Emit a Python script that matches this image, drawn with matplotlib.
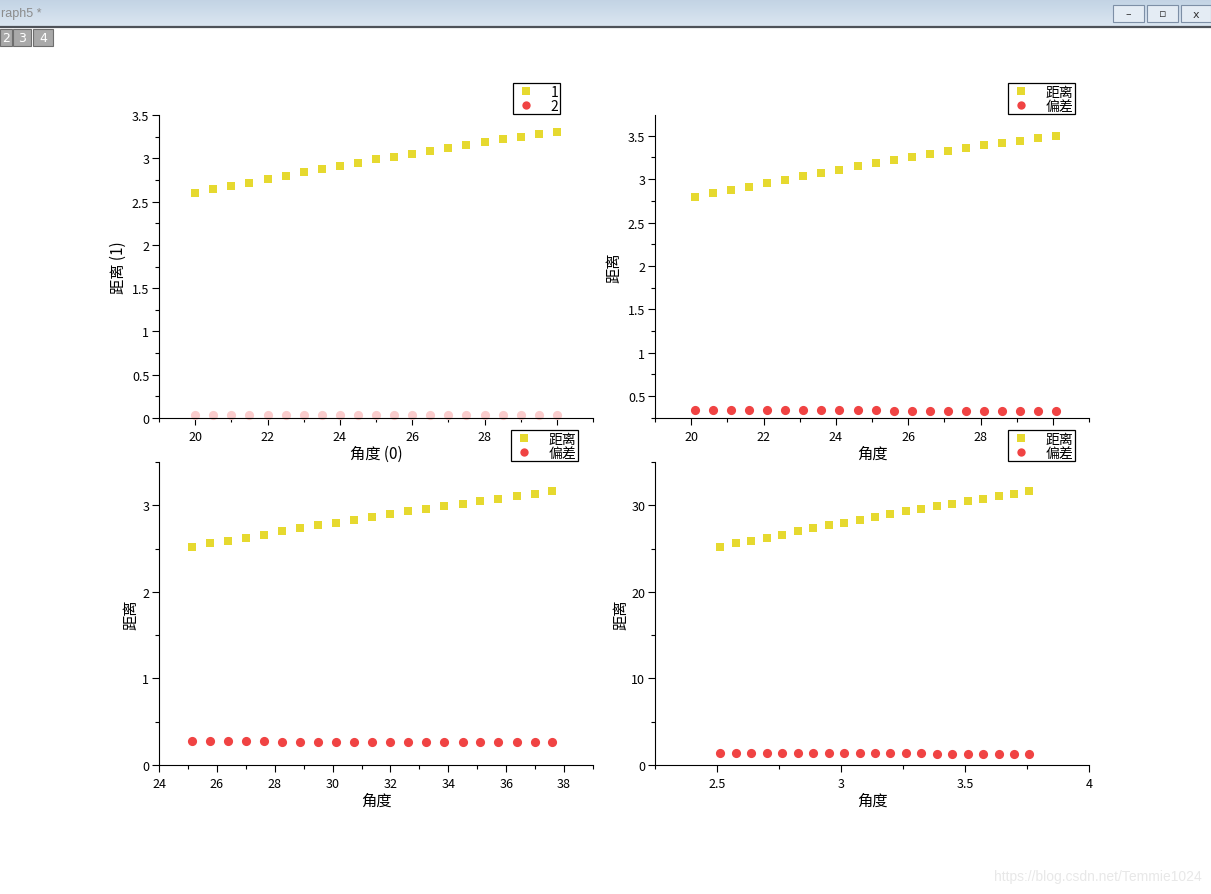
import matplotlib
matplotlib.use("Agg")
import numpy as np
import matplotlib.pyplot as plt
from matplotlib.lines import Line2D
from matplotlib.patches import Rectangle
from matplotlib.ticker import MultipleLocator, FuncFormatter

plt.rcParams['font.family'] = ['Noto Sans CJK SC', 'DejaVu Sans']

# ---- data -------------------------------------------------------------
angle_a = [20.0, 20.5, 21.0, 21.5, 22.0, 22.5, 23.0, 23.5, 24.0, 24.5, 25.0,
           25.5, 26.0, 26.5, 27.0, 27.5, 28.0, 28.5, 29.0, 29.5, 30.0]
dist_a = [2.60, 2.64, 2.68, 2.72, 2.76, 2.80, 2.84, 2.875, 2.91, 2.95, 2.99,
          3.02, 3.055, 3.085, 3.12, 3.15, 3.19, 3.22, 3.25, 3.275, 3.305]
dev_a = [0.038, 0.039, 0.040, 0.039, 0.038, 0.038, 0.037, 0.037, 0.036, 0.036, 0.035,
         0.035, 0.034, 0.034, 0.033, 0.033, 0.032, 0.032, 0.031, 0.031, 0.030]

angle_b = [20.1, 20.6, 21.1, 21.6, 22.1, 22.6, 23.1, 23.6, 24.1, 24.6, 25.1,
           25.6, 26.1, 26.6, 27.1, 27.6, 28.1, 28.6, 29.1, 29.6, 30.1]
dist_b = [2.79, 2.835, 2.875, 2.915, 2.955, 2.995, 3.035, 3.075, 3.11, 3.15, 3.19,
          3.225, 3.255, 3.29, 3.325, 3.355, 3.39, 3.42, 3.445, 3.47, 3.50]
dev_b = [0.335, 0.338, 0.340, 0.339, 0.337, 0.336, 0.335, 0.335, 0.334, 0.333, 0.332,
         0.331, 0.330, 0.329, 0.328, 0.327, 0.327, 0.326, 0.325, 0.325, 0.324]

angle_c = [25.14, 25.76, 26.38, 27.01, 27.63, 28.25, 28.88, 29.50, 30.12, 30.75, 31.37,
           31.99, 32.62, 33.24, 33.86, 34.49, 35.11, 35.73, 36.36, 36.98, 37.60]
dist_c = [2.515, 2.56, 2.59, 2.625, 2.66, 2.70, 2.735, 2.77, 2.795, 2.83, 2.87,
          2.90, 2.93, 2.96, 2.995, 3.015, 3.05, 3.075, 3.105, 3.135, 3.16]
dev_c = [0.272, 0.273, 0.274, 0.273, 0.272, 0.271, 0.270, 0.270, 0.269, 0.268, 0.268,
         0.267, 0.266, 0.266, 0.265, 0.265, 0.264, 0.264, 0.263, 0.263, 0.262]

angle_d = [2.514, 2.576, 2.638, 2.701, 2.763, 2.825, 2.888, 2.950, 3.012, 3.075, 3.137,
           3.199, 3.262, 3.324, 3.386, 3.449, 3.511, 3.573, 3.636, 3.698, 3.760]
dist_d = [25.15, 25.6, 25.9, 26.25, 26.6, 27.0, 27.35, 27.7, 27.95, 28.3, 28.7,
          29.0, 29.3, 29.6, 29.95, 30.15, 30.5, 30.75, 31.05, 31.35, 31.6]
dev_d = [1.36, 1.37, 1.38, 1.37, 1.36, 1.36, 1.35, 1.35, 1.34, 1.34, 1.34,
         1.33, 1.33, 1.33, 1.32, 1.32, 1.32, 1.31, 1.31, 1.31, 1.30]

labels_a = ["1", "2"]
labels_cn = ["距离", "偏差"]
ylabel_a = "距离 (1)"
xlabel_a = "角度 (0)"
ylabel_cn = "距离"
xlabel_cn = "角度"

YELLOW = "#E6D92F"
RED = "#F04343"
PINK = "#FACCCC"

W, H = 1211, 895
fig = plt.figure(figsize=(W / 100, H / 100), dpi=100)
fig.patch.set_facecolor("white")


def fx(px):
    return px / W


def fy(py):
    return 1 - py / H


def make_axes(left, top, right, bottom):
    return fig.add_axes([fx(left), fy(bottom), fx(right - left), (bottom - top) / H])


def number_fmt(hidden=()):
    # plain numbers; values listed in `hidden` sit under a legend box and get no label
    def f(v, p):
        v = round(v, 6)
        if any(abs(v - h) < 1e-9 for h in hidden):
            return ""
        return "{:g}".format(v)
    return FuncFormatter(f)


def style(ax, xlim, ylim, xmaj, xmin, ymaj, ymin, hidden_x=()):
    ax.set_xlim(*xlim)
    ax.set_ylim(*ylim)
    for s in ("top", "right"):
        ax.spines[s].set_visible(False)
    for s in ("left", "bottom"):
        ax.spines[s].set_linewidth(0.8)
    ax.xaxis.set_major_locator(MultipleLocator(xmaj))
    ax.xaxis.set_minor_locator(MultipleLocator(xmin))
    ax.yaxis.set_major_locator(MultipleLocator(ymaj))
    ax.yaxis.set_minor_locator(MultipleLocator(ymin))
    ax.xaxis.set_major_formatter(number_fmt(hidden_x))
    ax.yaxis.set_major_formatter(number_fmt())
    ax.tick_params(which="major", direction="out", length=5, width=0.8, labelsize=9)
    ax.tick_params(which="minor", direction="out", length=3, width=0.8)
    ax.tick_params(axis="y", which="major", pad=2)
    ax.tick_params(axis="x", which="major", pad=4)
    ax.set_facecolor("none")


def labels(ax, xl, yl, ylx):
    ax.set_xlabel(xl, fontsize=11)
    ax.set_ylabel(yl, fontsize=11)
    ax.xaxis.set_label_coords(0.5, -35 / 303)
    ax.xaxis.label.set_verticalalignment("center")
    ax.yaxis.set_label_coords(ylx, 0.5)
    ax.yaxis.label.set_verticalalignment("center")


def scatter(ax, x, y, marker, color, ms):
    ax.plot(x, y, ls="none", marker=marker, ms=ms, color=color, mew=0, clip_on=False)


# top-left panel
ax1 = make_axes(159, 116, 593, 419)
style(ax1, (19, 31), (0, 3.5), 2, 1, 0.5, 0.25, hidden_x=(30,))
scatter(ax1, angle_a, dist_a, "s", YELLOW, 6.0)
scatter(ax1, angle_a, dev_a, "o", PINK, 6.6)
labels(ax1, xlabel_a, ylabel_a, -41 / 434)

# top-right panel
ax2 = make_axes(655, 116, 1089, 419)
style(ax2, (19, 31), (0.245, 3.74), 2, 1, 0.5, 0.25, hidden_x=(30,))
scatter(ax2, angle_b, dist_b, "s", YELLOW, 6.0)
scatter(ax2, angle_b, dev_b, "o", RED, 6.6)
labels(ax2, xlabel_cn, ylabel_cn, -41 / 434)

# bottom-left panel
ax3 = make_axes(159, 463, 593, 766)
style(ax3, (24, 39), (0, 3.5), 2, 1, 1, 0.5)
scatter(ax3, angle_c, dist_c, "s", YELLOW, 6.0)
scatter(ax3, angle_c, dev_c, "o", RED, 6.6)
labels(ax3, xlabel_cn, ylabel_cn, -28 / 434)

# bottom-right panel
ax4 = make_axes(655, 463, 1089, 766)
style(ax4, (2.25, 4), (0, 35), 0.5, 0.25, 10, 5)
scatter(ax4, angle_d, dist_d, "s", YELLOW, 6.0)
scatter(ax4, angle_d, dev_d, "o", RED, 6.6)
labels(ax4, xlabel_cn, ylabel_cn, -34 / 434)


# legends, drawn at figure level so they sit above neighbouring panels
def legend(texts, right, top, hl):
    handles = [
        Line2D([], [], ls="none", marker="s", ms=5.5, color=YELLOW, mew=0),
        Line2D([], [], ls="none", marker="o", ms=6.0, color=RED, mew=0),
    ]
    lg = fig.legend(handles, texts, loc="upper right",
                    bbox_to_anchor=(fx(right), fy(top)),
                    bbox_transform=fig.transFigure,
                    fontsize=10, frameon=True, fancybox=False, shadow=False,
                    framealpha=1, edgecolor="black", facecolor="white",
                    borderpad=0.12, labelspacing=0.0, handlelength=hl,
                    handletextpad=1.0, borderaxespad=0.0, alignment="right")
    lg.get_frame().set_linewidth(0.9)
    lg.set_zorder(10)
    return lg


legend(labels_a, 560, 84, 1.6)
legend(labels_cn, 1075, 84, 1.6)
legend(labels_cn, 578, 431, 1.6)
legend(labels_cn, 1075, 431, 1.6)

# window chrome: title bar, buttons and sheet tabs
bar = fig.add_axes([0, fy(27), 1, 27 / H])
bar.axis("off")
grad = np.linspace(0, 1, 50).reshape(-1, 1)
bar.imshow(grad, aspect="auto", cmap=matplotlib.colors.LinearSegmentedColormap.from_list(
    "bar", ["#c2d3e4", "#dbe6f1"]), extent=(0, 1, 0, 1), origin="upper")
bar.set_xlim(0, 1)
bar.set_ylim(0, 1)
fig.add_artist(Line2D([0, 1], [fy(27.5), fy(27.5)], color="#4e5258", lw=1.6,
                      transform=fig.transFigure))
fig.text(fx(1), fy(14), "raph5 *", fontsize=9, color="#8c8c8c", va="center", ha="left",
         family=["Liberation Sans", "DejaVu Sans"])

for (x0, x1), sym in zip([(1113, 1144), (1147, 1178), (1181, 1211)], ["–", "▫", "x"]):
    fig.add_artist(Rectangle((fx(x0), fy(23)), fx(x1 - x0), 17 / H, transform=fig.transFigure,
                             facecolor="#e4ecf4", edgecolor="#7d8fa6", lw=0.8))
    fig.text(fx((x0 + x1) / 2), fy(14.5), sym, fontsize=8, color="#333333",
             ha="center", va="center", family=["DejaVu Sans"])

for (x0, x1), t in zip([(0, 12), (13, 31), (33, 53)], ["2", "3", "4"]):
    fig.add_artist(Rectangle((fx(x0), fy(47)), fx(x1 - x0), 17 / H, transform=fig.transFigure,
                             facecolor="#a9a9a9", edgecolor="#6e6e6e", lw=0.8))
    fig.text(fx((x0 + x1) / 2), fy(38.5), t, fontsize=9, color="white",
             ha="center", va="center", family=["DejaVu Sans"])

fig.text(fx(1202), fy(877), "https://blog.csdn.net/Temmie1024", fontsize=10,
         color="#e8e8e8", ha="right", va="center", family=["Liberation Sans", "DejaVu Sans"])

fig.savefig("out.png", dpi=100, facecolor="white")
